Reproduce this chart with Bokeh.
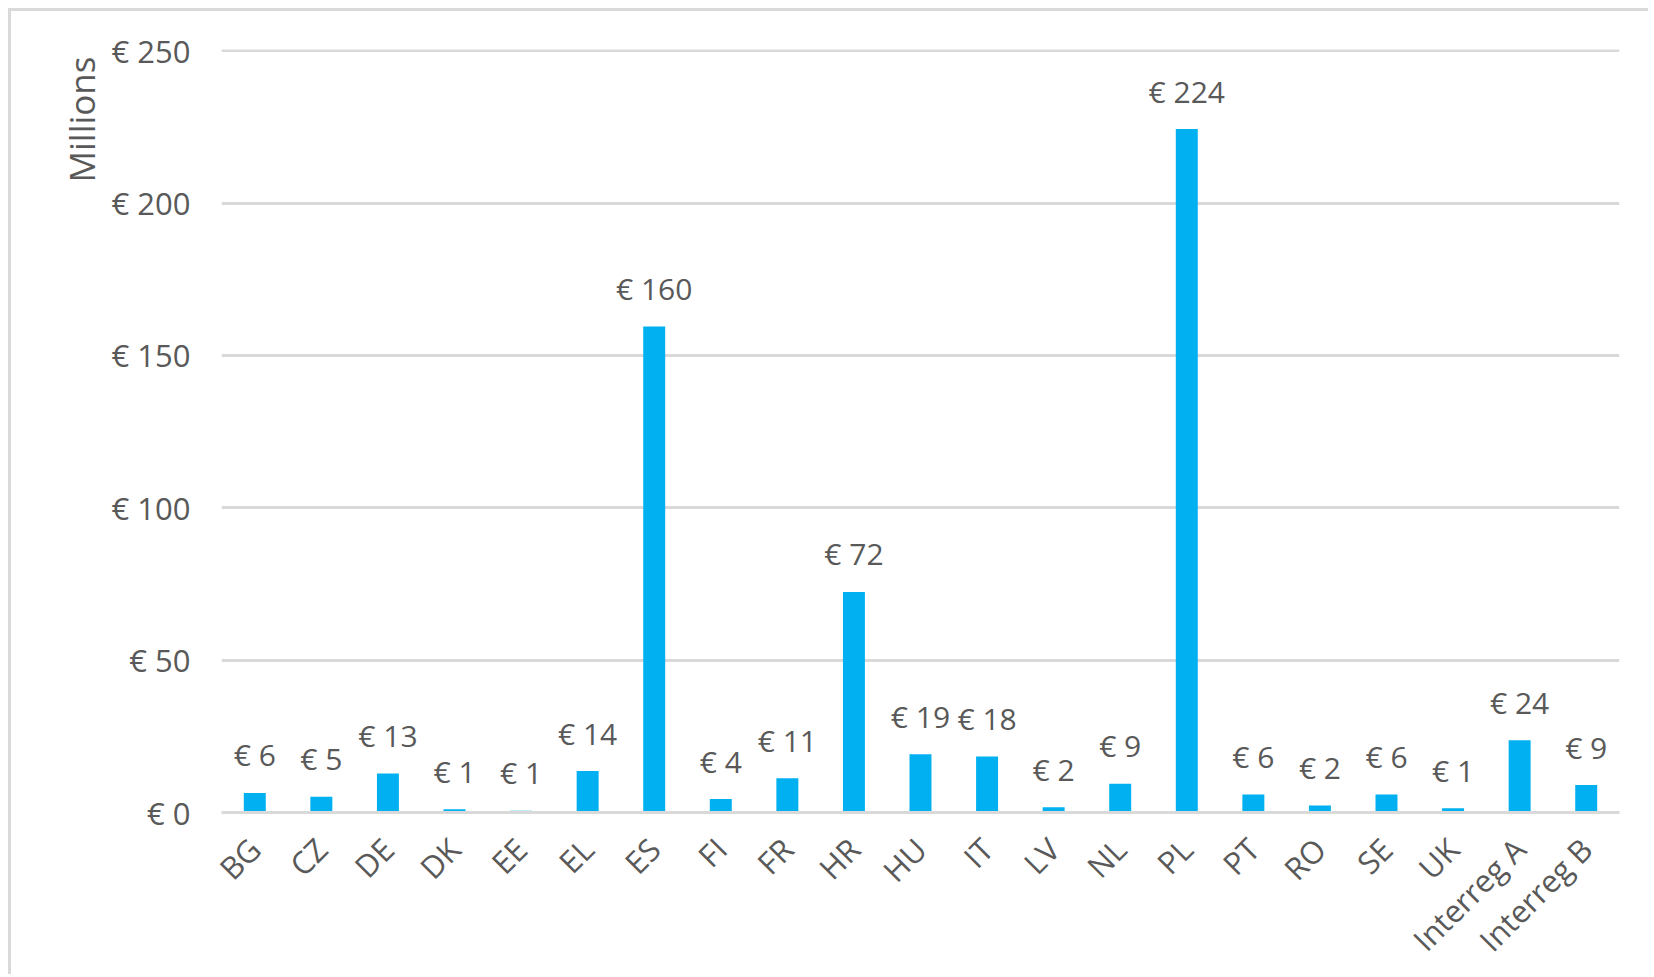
import math
from bokeh.plotting import figure
from bokeh.models import ColumnDataSource, Title, FixedTicker, CustomJSTickFormatter, Range1d
from bokeh.core.properties import value
from bokeh.embed import file_html
from bokeh.resources import INLINE

# ---- data ----
categories = ["BG", "CZ", "DE", "DK", "EE", "EL", "ES", "FI", "FR", "HR", "HU",
              "IT", "LV", "NL", "PL", "PT", "RO", "SE", "UK", "Interreg A", "Interreg B"]
amounts = [6.4, 5.2, 12.8, 1.1, 0.6, 13.6, 159.5, 4.4, 11.2, 72.4, 19.1,
           18.4, 1.7, 9.4, 224.3, 5.9, 2.3, 5.9, 1.4, 23.7, 9.0]
y_ticks = [0, 50, 100, 150, 200, 250]
y_title = "Millions"

labels = [f"€ {v:.0f}" for v in amounts]
src = ColumnDataSource(dict(cat=categories, amt=amounts, lab=labels))

FONT = "Open Sans"
TXT = "#595959"
GRID = "#d9d9d9"
BAR = "#00b0f0"

W, H = 1640, 966
Y_END = 250.4
p = figure(x_range=categories, y_range=Range1d(0, Y_END), width=W, height=H,
           output_backend="svg", toolbar_location=None,
           min_border_left=210, min_border_top=38, min_border_right=32,
           min_border_bottom=164)
p.styles = {"border-left": f"3px solid {GRID}", "border-top": f"3px solid {GRID}",
            "box-sizing": "border-box", "margin-left": "8px", "margin-top": "8px"}

p.vbar(x="cat", top="amt", width=0.33, source=src, color=BAR, line_color=None)
p.text(x="cat", y="amt", text="lab", source=src, text_font=value(FONT),
       text_font_size="30px", text_color=TXT, text_align="center",
       text_baseline="alphabetic", y_offset=-38)

p.outline_line_color = None
p.xgrid.grid_line_color = None
p.ygrid.grid_line_color = GRID
p.ygrid.grid_line_width = 3
p.ygrid.ticker = FixedTicker(ticks=y_ticks)

ya = p.yaxis[0]
ya.ticker = FixedTicker(ticks=y_ticks)
ya.formatter = CustomJSTickFormatter(code="return '€ ' + tick;")
ya.axis_line_color = None
ya.major_tick_line_color = None
ya.minor_tick_line_color = None
ya.major_tick_out = 0
ya.major_tick_in = 0
ya.major_label_standoff = 31
ya.major_label_text_font = FONT
ya.major_label_text_font_size = "31px"
ya.major_label_text_color = TXT

xa = p.xaxis[0]
xa.axis_line_color = GRID
xa.axis_line_width = 3
xa.major_tick_line_color = None
xa.minor_tick_line_color = None
xa.major_tick_out = 0
xa.major_tick_in = 0
xa.major_label_orientation = math.pi / 4
xa.major_label_standoff = 31
xa.major_label_text_font = FONT
xa.major_label_text_font_size = "31px"
xa.major_label_text_color = TXT

# vertical axis title, at the top of the left side
p.add_layout(Title(text=y_title, align="right", offset=7, standoff=7,
                   text_font=FONT, text_font_size="35px", text_color=TXT,
                   text_font_style="normal"), "left")

open("out.html", "w").write(file_html(p, INLINE))
